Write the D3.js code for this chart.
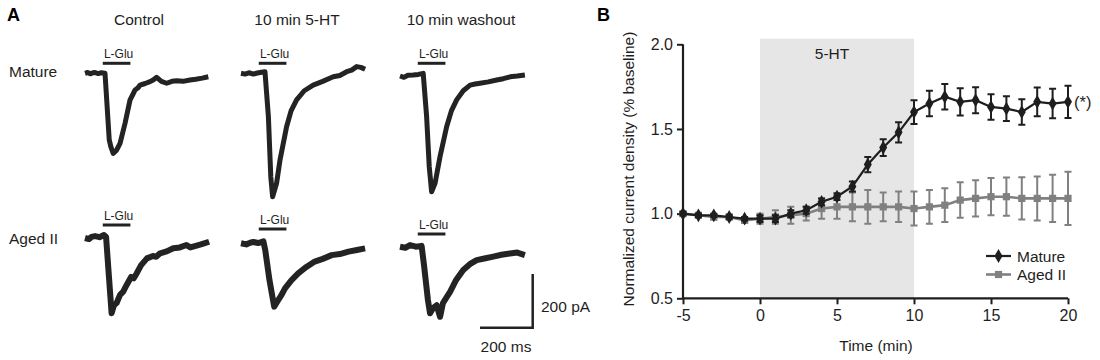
<!DOCTYPE html>
<html>
<head>
<meta charset="utf-8">
<script src="https://cdn.jsdelivr.net/npm/d3@7"></script>
<style>
  body { margin: 0; background: #fff; }
  svg { font-family: "Liberation Sans", Arial, sans-serif; }
</style>
</head>
<body>
<div id="chart"></div>
<script>
// ---- panel B data ----
const timeMin = [-5, -4, -3, -2, -1, 0, 1, 2, 3, 4, 5, 6, 7, 8, 9, 10, 11, 12, 13, 14, 15, 16, 17, 18, 19, 20];
const matureMean = [1.00, 0.99, 0.99, 0.98, 0.97, 0.97, 0.97, 1.00, 1.02, 1.07, 1.10, 1.16, 1.29, 1.39, 1.48, 1.60, 1.65, 1.69, 1.66, 1.67, 1.63, 1.62, 1.60, 1.66, 1.65, 1.66];
const matureErr = [0.01, 0.01, 0.01, 0.01, 0.01, 0.02, 0.02, 0.02, 0.02, 0.02, 0.02, 0.03, 0.045, 0.05, 0.06, 0.07, 0.075, 0.075, 0.08, 0.077, 0.075, 0.073, 0.075, 0.085, 0.087, 0.095];
const agedMean = [1.00, 0.99, 0.98, 0.98, 0.96, 0.97, 0.98, 0.99, 1.00, 1.03, 1.04, 1.04, 1.04, 1.04, 1.04, 1.03, 1.04, 1.05, 1.08, 1.09, 1.10, 1.10, 1.09, 1.09, 1.09, 1.09];
const agedErr = [0.01, 0.01, 0.015, 0.015, 0.015, 0.03, 0.04, 0.05, 0.04, 0.06, 0.07, 0.085, 0.1, 0.085, 0.09, 0.1, 0.1, 0.1, 0.105, 0.107, 0.11, 0.113, 0.125, 0.13, 0.14, 0.157];
const xTicks = [-5, 0, 5, 10, 15, 20];
const yTicks = [0.5, 1.0, 1.5, 2.0];
const drugWindow = [0, 10];

// ---- panel A data: traces, time (ms) vs current (pA, relative to baseline) ----
const columnTitles = ["Control", "10 min 5-HT", "10 min washout"];
const rowTitles = ["Mature", "Aged II"];
const glutamatePulse = [75, 180]; // ms, L-Glu application bar
const matureControl = [[0,0],[10,3],[20,-2],[30,2],[38,3],[50,-1],[62,2],[76,0],[92,-248],[98,-273],[107,-298],[120,-286],[133,-261],[152,-186],[171,-99],[182,-78],[190,-62],[200,-55],[209,-44],[228,-38],[247,-31],[260,-24],[272,-15],[290,-30],[310,-37],[330,-30],[348,-28],[372,-30],[398,-25],[420,-22],[445,-18],[468,-13]];
const mature5HT = [[0,0],[15,-3],[30,2],[47,-3],[62,1],[78,4],[91,6],[104,-162],[113,-385],[120,-460],[135,-410],[148,-323],[173,-199],[190,-140],[211,-99],[240,-65],[274,-44],[310,-30],[350,-13],[375,-8],[401,6],[420,12],[439,25],[455,22],[471,15]];
const matureWash = [[0,0],[15,-5],[30,3],[50,4],[70,6],[88,10],[101,-151],[111,-338],[120,-431],[133,-400],[152,-300],[177,-189],[195,-130],[215,-89],[240,-55],[266,-34],[285,-30],[304,-27],[335,-22],[367,-15],[392,-10],[418,-3],[445,0],[474,4]];
const agedControl = [[0,0],[15,-4],[25,4],[38,7],[55,3],[72,11],[80,4],[89,-119],[101,-280],[110,-250],[120,-242],[133,-212],[145,-200],[158,-175],[175,-145],[185,-150],[196,-132],[213,-101],[235,-76],[258,-67],[270,-70],[285,-57],[310,-50],[335,-38],[360,-35],[385,-26],[400,-35],[417,-30],[440,-24],[471,-14]];
const aged5HT = [[0,0],[20,-4],[35,2],[47,5],[65,1],[85,7],[92,-25],[108,-137],[126,-236],[141,-212],[155,-190],[167,-168],[191,-138],[217,-112],[248,-88],[280,-68],[310,-58],[344,-44],[375,-40],[408,-31],[440,-25],[471,-19]];
const agedWash = [[0,0],[20,-4],[38,6],[60,0],[82,3],[91,-68],[106,-199],[114,-248],[125,-229],[139,-218],[152,-261],[163,-210],[176,-190],[190,-168],[213,-124],[240,-87],[265,-65],[291,-50],[320,-44],[354,-37],[385,-30],[417,-25],[445,-22],[474,-31]];
const scaleBarMs = 200;
const scaleBarPA = 200;

const W = 1100, H = 360;
const svg = d3.select("#chart").append("svg").attr("width", W).attr("height", H);

const ink = "#1e1e1e";
const grey = "#808080";
const fs = 15.5;

// ================= Panel A =================
const msPx = d3.scaleLinear().domain([0, 200]).range([0, 52.7]);
const paPx = d3.scaleLinear().domain([0, 200]).range([0, 53.7]);

svg.append("text").attr("x", 7).attr("y", 21).attr("font-size", 18).attr("font-weight", "bold").text("A");

const colX = [85, 241, 400];
const colCenter = [139, 297, 461];
columnTitles.forEach((t, i) => {
    svg.append("text").attr("x", colCenter[i]).attr("y", 25).attr("text-anchor", "middle")
        .attr("font-size", fs).attr("fill", ink).text(t);
});
const rowLabelY = [77, 244];
rowTitles.forEach((t, i) => {
    svg.append("text").attr("x", 9).attr("y", rowLabelY[i]).attr("font-size", fs).attr("fill", ink).text(t);
});

const traces = [
    {data: matureControl, col: 0, base: 73.3, bar: 63.3, w: 5},
    {data: mature5HT,     col: 1, base: 73.3, bar: 63.3, w: 5},
    {data: matureWash,    col: 2, base: 76,   bar: 63.3, w: 5},
    {data: agedControl,   col: 0, base: 238,  bar: 225,  w: 6},
    {data: aged5HT,       col: 1, base: 243.3, bar: 229, w: 6},
    {data: agedWash,      col: 2, base: 246.7, bar: 234, w: 6}
];

traces.forEach(tr => {
    const x0 = colX[tr.col];
    const line = d3.line()
        .x(d => x0 + msPx(d[0]))
        .y(d => tr.base - paPx(d[1]));
    svg.append("path").attr("d", line(tr.data)).attr("fill", "none")
        .attr("stroke", "#232323").attr("stroke-width", tr.w)
        .attr("stroke-linejoin", "round").attr("stroke-linecap", "butt");

    // L-Glu bar
    const bx0 = x0 + msPx(glutamatePulse[0]) - 2;
    const bx1 = x0 + msPx(glutamatePulse[1]) - 2;
    svg.append("line").attr("x1", bx0).attr("x2", bx1).attr("y1", tr.bar).attr("y2", tr.bar)
        .attr("stroke", "#222").attr("stroke-width", 3);
    svg.append("text").attr("x", (bx0 + bx1) / 2 + 2).attr("y", tr.bar - 5).attr("text-anchor", "middle")
        .attr("font-size", 12).attr("fill", ink).text("L-Glu");
});

// scale bar
const sbx = 532.7, sby = 327.7;
svg.append("path")
    .attr("d", `M${sbx - msPx(scaleBarMs)},${sby}H${sbx}V${sby - paPx(scaleBarPA)}`)
    .attr("fill", "none").attr("stroke", "#222").attr("stroke-width", 2.5);
svg.append("text").attr("x", 541).attr("y", 312).attr("font-size", fs).attr("fill", ink).text(`${scaleBarPA} pA`);
svg.append("text").attr("x", 506).attr("y", 352).attr("text-anchor", "middle").attr("font-size", fs).attr("fill", ink).text(`${scaleBarMs} ms`);

// ================= Panel B =================
svg.append("text").attr("x", 597).attr("y", 21).attr("font-size", 18).attr("font-weight", "bold").text("B");

const x = d3.scaleLinear().domain([-5, 20]).range([683, 1068]);
const y = d3.scaleLinear().domain([0.5, 2.0]).range([298.3, 44.3]);

// 5-HT shading
svg.append("rect")
    .attr("x", x(drugWindow[0])).attr("width", x(drugWindow[1]) - x(drugWindow[0]))
    .attr("y", y(2.033)).attr("height", y(0.5) - y(2.033))
    .attr("fill", "#e6e6e6");
svg.append("text").attr("x", x(5) - 5).attr("y", 59).attr("text-anchor", "middle")
    .attr("font-size", fs).attr("fill", ink).text("5-HT");

// axes
const xAxis = svg.append("g").attr("transform", `translate(0,${y(0.5)})`)
    .call(d3.axisBottom(x).tickValues(xTicks).tickSize(6).tickPadding(5).tickFormat(d => String(d)));
const yAxis = svg.append("g").attr("transform", `translate(${x(-5)},0)`)
    .call(d3.axisLeft(y).tickValues(yTicks).tickSize(6).tickPadding(4).tickFormat(d3.format(".1f")));
[xAxis, yAxis].forEach(g => {
    g.select(".domain").attr("stroke", ink).attr("stroke-width", 2.2);
    g.selectAll(".tick line").attr("stroke", ink).attr("stroke-width", 2);
    g.selectAll(".tick text").attr("font-size", 16).attr("fill", ink)
        .attr("font-family", "'Liberation Sans', Arial, sans-serif");
});
xAxis.select(".domain").attr("d", `M${x(-5)},0H${x(20)}`);
yAxis.select(".domain").attr("d", `M0,${y(0.5)}V${y(2.0)}`);

svg.append("text").attr("x", 876).attr("y", 351).attr("text-anchor", "middle")
    .attr("font-size", fs).attr("fill", ink).text("Time (min)");
svg.append("text").attr("transform", `translate(634,${169}) rotate(-90)`).attr("text-anchor", "middle")
    .attr("font-size", fs).attr("fill", ink).text("Normalized current density (% baseline)");

// series
const series = [
    {name: "Aged II", mean: agedMean, err: agedErr, color: grey, shape: d3.symbolSquare, size: 52, lw: 2.6},
    {name: "Mature", mean: matureMean, err: matureErr, color: ink, shape: d3.symbolDiamond, size: 55, lw: 2.2}
];

series.forEach(s => {
    const pts = timeMin.map((t, i) => ({t, m: s.mean[i], e: s.err[i]}));
    const g = svg.append("g");
    g.selectAll(".eb").data(pts).enter().append("path")
        .attr("d", d => `M${x(d.t)},${y(d.m - d.e)}V${y(d.m + d.e)}` +
            `M${x(d.t) - 3.5},${y(d.m - d.e)}h7M${x(d.t) - 3.5},${y(d.m + d.e)}h7`)
        .attr("stroke", s.color).attr("stroke-width", 2).attr("fill", "none");
    g.append("path").datum(pts)
        .attr("d", d3.line().x(d => x(d.t)).y(d => y(d.m)))
        .attr("fill", "none").attr("stroke", s.color).attr("stroke-width", s.lw);
    g.selectAll(".mk").data(pts).enter().append("path")
        .attr("transform", d => `translate(${x(d.t)},${y(d.m)})`)
        .attr("d", d3.symbol().type(s.shape).size(s.size))
        .attr("fill", s.color);
});

svg.append("text").attr("x", 1074).attr("y", 108).attr("font-size", 16.5).attr("fill", ink).text("(*)");

// legend
const legend = [series[1], series[0]];
legend.forEach((s, i) => {
    const ly = 256 + i * 18.5;
    svg.append("line").attr("x1", 986).attr("x2", 1011).attr("y1", ly).attr("y2", ly)
        .attr("stroke", s.color).attr("stroke-width", s.lw);
    svg.append("path").attr("transform", `translate(998.5,${ly})`)
        .attr("d", d3.symbol().type(s.shape).size(s.size)).attr("fill", s.color);
    svg.append("text").attr("x", 1017).attr("y", ly + 5.5).attr("font-size", fs).attr("fill", ink).text(s.name);
});
</script>
</body>
</html>
